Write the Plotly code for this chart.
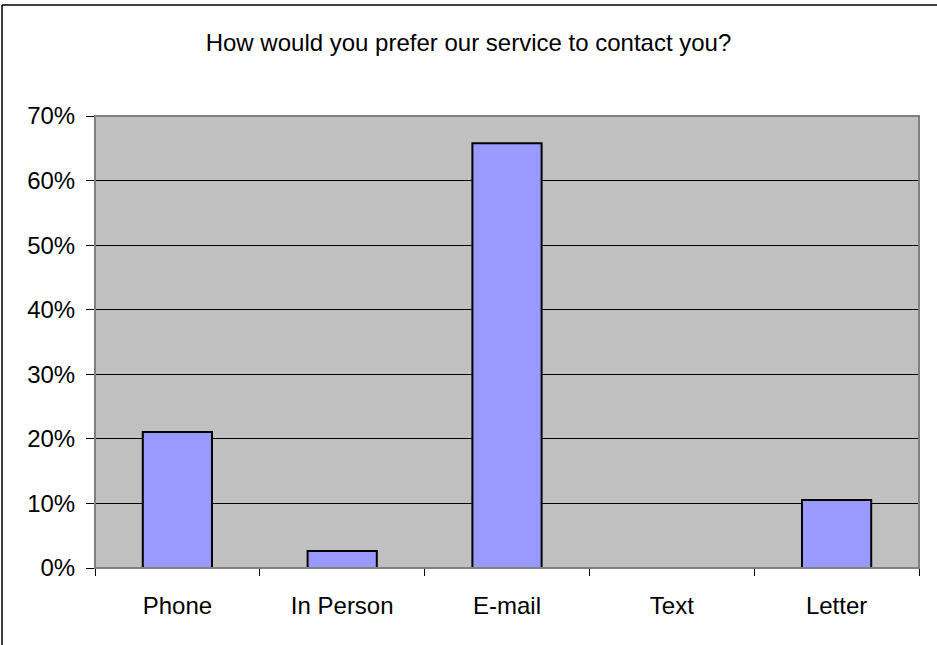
import plotly.graph_objects as go

categories = ["Phone", "In Person", "E-mail", "Text", "Letter"]
values = [0.2105, 0.0263, 0.6579, 0.0, 0.1053]
y_ticks = [0, 0.1, 0.2, 0.3, 0.4, 0.5, 0.6, 0.7]
y_tick_labels = ["0%", "10%", "20%", "30%", "40%", "50%", "60%", "70%"]
title_text = "How would you prefer our service to contact you?"

W, H = 937, 645
ml, mr, mt, mb = 95, 18, 116, 77
pw, ph = W - ml - mr, H - mt - mb

def px_x(x):
    return (x - ml) / pw

def px_y(y):
    return (H - mb - y) / ph

fig = go.Figure(go.Bar(
    x=categories, y=values,
    marker=dict(color="#9999FF", line=dict(color="#000000", width=2)),
    width=0.42,
))

fig.update_layout(
    width=W, height=H,
    margin=dict(l=ml, r=mr, t=mt, b=mb),
    paper_bgcolor="white",
    plot_bgcolor="#C0C0C0",
    font=dict(family="Liberation Sans, Arial", size=24, color="black"),
    title=dict(text=title_text, x=0.5, xref="container", xanchor="center",
               y=1 - 43 / H, yanchor="middle", font=dict(size=24)),
    showlegend=False,
    xaxis=dict(
        showgrid=False, ticks="outside", tickson="boundaries", ticklen=7,
        tickcolor="black", showline=True, linecolor="#000000", linewidth=1,
        mirror=False, tickfont=dict(size=24), ticklabelstandoff=16,
    ),
    yaxis=dict(
        range=[0, 0.7], tickvals=y_ticks, ticktext=y_tick_labels,
        showgrid=True, gridcolor="black", gridwidth=1,
        ticks="outside", ticklen=8, tickcolor="black",
        showline=True, linecolor="#808080", linewidth=1,
        zeroline=False, tickfont=dict(size=24), ticklabelstandoff=6,
    ),
)

# plot area border (gray)
fig.add_shape(type="rect", xref="paper", yref="paper", x0=0, y0=0, x1=1, y1=1,
              line=dict(color="#808080", width=2), layer="above")
# outer chart border (left and top edges visible)
fig.add_shape(type="line", xref="paper", yref="paper",
              x0=px_x(2), x1=px_x(2), y0=px_y(H + 5), y1=px_y(5),
              line=dict(color="black", width=1.5))
fig.add_shape(type="line", xref="paper", yref="paper",
              x0=px_x(2), x1=px_x(W + 5), y0=px_y(5), y1=px_y(5),
              line=dict(color="black", width=1.5))

fig.write_html("out.html", config={"displayModeBar": False},
               post_script="document.body.style.margin='0';")
